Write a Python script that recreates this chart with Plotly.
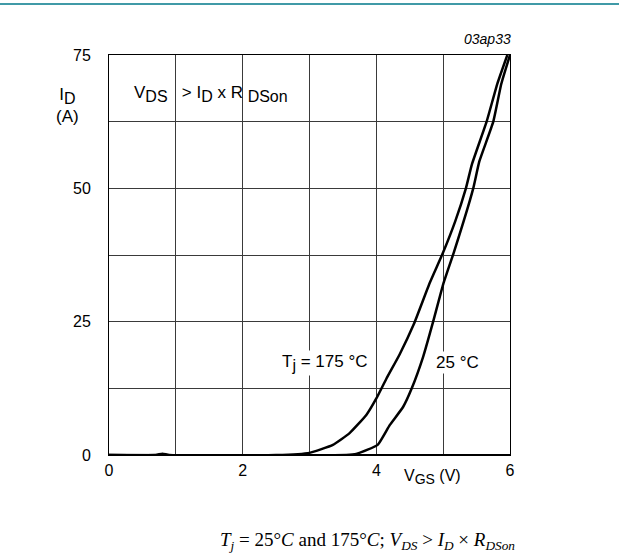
import plotly.graph_objects as go

# Transfer characteristics data (V_GS in V, I_D in A)
vgs_175 = [0, 0.7, 0.8, 0.9, 2.5, 3.0, 3.35, 3.6, 3.85, 4.0, 4.15, 4.35, 4.56, 4.8, 5.0, 5.18, 5.34, 5.43, 5.65, 5.81, 5.96]
id_175 = [0, 0, 0.25, 0, 0, 0.4, 1.9, 4.1, 7.5, 10.6, 14.3, 18.9, 24.5, 32.3, 38.0, 43.8, 50, 54.5, 62.5, 69.6, 75]

vgs_25 = [0, 3.55, 3.7, 4.02, 4.2, 4.4, 4.53, 4.7, 4.85, 5.0, 5.16, 5.45, 5.54, 5.75, 5.87, 6.0]
id_25 = [0, 0, 0.2, 1.9, 5.6, 9.0, 12.5, 18.4, 25, 32.0, 38.0, 50, 55, 62.5, 69.6, 75]

x_tickvals = [0, 1, 2, 3, 4, 5, 6]
x_ticktext = ["0", "", "2", "", "4", "", "6"]
y_tickvals = [0, 12.5, 25, 37.5, 50, 62.5, 75]
y_ticktext = ["0", "", "25", "", "50", "", "75"]

FONT = "Liberation Sans, Arial, sans-serif"


def sub(t, size=16):
    return f'<sub><span style="font-size:{size}px">{t}</span></sub>'


fig = go.Figure()
for xs, ys in ((vgs_175, id_175), (vgs_25, id_25)):
    fig.add_trace(go.Scatter(x=xs, y=ys, mode="lines",
                             line=dict(color="black", width=2.5, shape="spline", smoothing=0.4),
                             showlegend=False, hoverinfo="skip"))

fig.update_layout(
    width=619, height=560,
    margin=dict(l=109, r=109, t=55, b=105),
    paper_bgcolor="white", plot_bgcolor="white",
    font=dict(family=FONT, size=17, color="black"),
    xaxis=dict(range=[0, 6], tickvals=x_tickvals, ticktext=x_ticktext,
               showgrid=True, gridcolor="#3a3a3a", gridwidth=1,
               showline=True, linecolor="black", linewidth=1, mirror=True,
               ticks="", zeroline=False, ticklabelstandoff=1,
               tickfont=dict(family=FONT, size=16)),
    yaxis=dict(range=[0, 75], tickvals=y_tickvals, ticktext=y_ticktext,
               showgrid=True, gridcolor="#3a3a3a", gridwidth=1,
               showline=True, linecolor="black", linewidth=1, mirror=True,
               ticks="", zeroline=False, ticklabelstandoff=14,
               tickfont=dict(family=FONT, size=16)),
)

# thicker bottom axis line
fig.add_shape(type="line", xref="x", yref="y", x0=0, x1=6, y0=0, y1=0,
              line=dict(color="black", width=2))

# teal top rule
fig.add_shape(type="line", xref="paper", yref="paper", x0=-0.3, x1=1.3,
              y0=(455 - 4) / 400, y1=(455 - 4) / 400,
              line=dict(color="#00788a", width=1.5))

ann = [
    dict(x=0.34, y=67.6, xref="x", yref="y", xanchor="left", yanchor="middle",
         text="V" + sub("DS") + "&nbsp;&nbsp;&nbsp;> I" + sub("D") + " x R&nbsp;" + sub("DSon")),
    dict(x=-0.103, y=65.5, xref="paper", yref="y", xanchor="center", yanchor="middle",
         text="I" + sub("D") + "<br>(A)"),
    dict(x=(433 - 109.3) / 401, y=(455 - 477) / 400, xref="paper", yref="paper",
         xanchor="center", yanchor="middle",
         text="V" + sub("GS", 14) + "&nbsp;(V)", font=dict(size=16)),
    dict(x=3.23, y=17.3, xref="x", yref="y", xanchor="center", yanchor="middle",
         text="T" + sub("j") + " = 175&nbsp;°C", bgcolor="white"),
    dict(x=5.22, y=17.3, xref="x", yref="y", xanchor="center", yanchor="middle",
         text="25&nbsp;°C", bgcolor="white"),
    dict(x=(513 - 109.3) / 401, y=(455 - 39) / 400, xref="paper", yref="paper",
         xanchor="right", yanchor="middle", text="<i>03ap33</i>", font=dict(size=14)),
    dict(x=(368 - 109.3) / 401, y=(455 - 541) / 400, xref="paper", yref="paper",
         xanchor="center", yanchor="middle",
         text="<i>T<sub>j</sub></i> = 25°<i>C</i> and 175°<i>C</i>; <i>V<sub>DS</sub></i> > <i>I<sub>D</sub></i> × <i>R<sub>DSon</sub></i>",
         font=dict(family="Liberation Serif, Times New Roman, serif", size=19)),
]
for a in ann:
    a.setdefault("showarrow", False)
    fig.add_annotation(**a)

fig.write_html("out.html")
